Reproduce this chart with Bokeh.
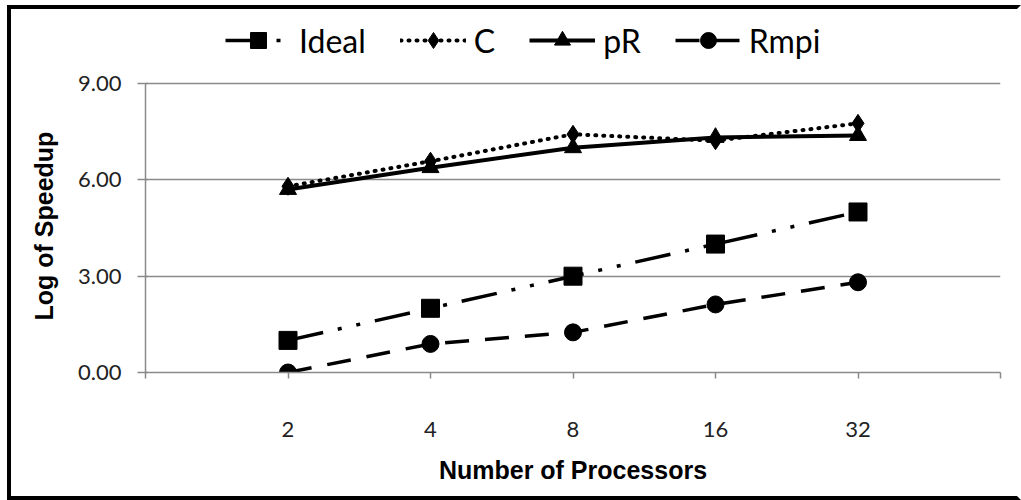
from bokeh.plotting import figure
from bokeh.models import Legend, LegendItem, FixedTicker, SingleIntervalTicker, NumeralTickFormatter, Title
from bokeh.embed import file_html
from bokeh.resources import INLINE

categories = ["2", "4", "8", "16", "32"]
ideal = [1.0, 2.0, 3.0, 4.0, 5.0]
c_vals = [5.80, 6.58, 7.42, 7.22, 7.76]
pr_vals = [5.70, 6.38, 7.00, 7.32, 7.38]
rmpi_vals = [0.0, 0.89, 1.25, 2.12, 2.81]
y_ticks = [0, 3, 6, 9]

xs = list(range(1, len(categories) + 1))

p = figure(width=1014, height=495, output_backend="svg", toolbar_location=None,
           x_range=(0, len(categories) + 1), y_range=(0, 11.12),
           min_border_left=134, min_border_right=25, min_border_top=6, min_border_bottom=132)
p.margin = (5, 0, 0, 7)
p.styles = {"border-left": "4px solid black", "border-top": "4px solid black",
            "border-bottom": "4px solid black", "border-right": "4px solid white"}
p.outline_line_color = None
p.background_fill_color = "white"
p.border_fill_color = "white"

# axes
p.xaxis.ticker = SingleIntervalTicker(interval=1)
p.xaxis.major_label_overrides = {0: "", len(categories) + 1: "", **{i + 1: c for i, c in enumerate(categories)}}
p.xaxis.axis_label = "Number of Processors"
p.yaxis.ticker = FixedTicker(ticks=y_ticks)
p.yaxis.bounds = (0, 9)
p.yaxis.formatter = NumeralTickFormatter(format="0.00")
for ax in (p.xaxis[0], p.yaxis[0]):
    ax.axis_line_color = "#8a8a8a"
    ax.axis_line_width = 1.5
    ax.major_tick_line_color = "#8a8a8a"
    ax.major_tick_line_width = 1.5
    ax.minor_tick_line_color = None
    ax.major_label_text_font = "Lato"
    ax.major_label_text_font_size = "22px"
    ax.major_label_text_color = "#222222"
    ax.axis_label_text_font = "Liberation Sans"
    ax.axis_label_text_font_style = "bold"
    ax.axis_label_text_font_size = "25px"
    ax.axis_label_text_color = "black"
p.xaxis.major_tick_out = 6
p.xaxis.major_tick_in = 0
p.xaxis.major_label_standoff = 43
p.xaxis.axis_label_standoff = 16
p.yaxis.major_tick_out = 8
p.yaxis.major_tick_in = 2
p.yaxis.major_label_standoff = 16

ytitle = Title(text="Log of Speedup", align="left", offset=52, vertical_align="middle",
               text_font="Liberation Sans", text_font_style="bold", text_font_size="25px",
               text_color="black", standoff=34)
p.add_layout(ytitle, "left")

p.xgrid.grid_line_color = None
p.ygrid.ticker = FixedTicker(ticks=y_ticks)
p.ygrid.grid_line_color = "#8a8a8a"
p.ygrid.grid_line_width = 1.5

# series
l_ideal = p.line(xs, ideal, line_color="black", line_width=3.5, line_dash="36 15 4 15 4 15")
m_ideal = p.scatter(xs, ideal, marker="square", size=18, fill_color="black", line_color="black")
l_c = p.line(xs, c_vals, line_color="black", line_width=4, line_dash="1 7", line_cap="round")
m_c = p.scatter(xs, c_vals, marker="diamond", size=18, fill_color="black", line_color="black")
l_pr = p.line(xs, pr_vals, line_color="black", line_width=4)
m_pr = p.scatter(xs, pr_vals, marker="triangle", size=17, fill_color="black", line_color="black")
l_rm = p.line(xs, rmpi_vals, line_color="black", line_width=3.5, line_dash="24 16")
m_rm = p.scatter(xs, rmpi_vals, marker="circle", size=17, fill_color="black", line_color="black")

legend = Legend(items=[
    LegendItem(label="Ideal", renderers=[l_ideal, m_ideal]),
    LegendItem(label="C", renderers=[l_c, m_c]),
    LegendItem(label="pR", renderers=[l_pr, m_pr]),
    LegendItem(label="Rmpi", renderers=[l_rm, m_rm]),
], orientation="horizontal", location=(80, 312))
legend.label_text_font = "Lato"
legend.label_text_font_size = "32px"
legend.label_text_color = "black"
legend.glyph_width = 66
legend.glyph_height = 40
legend.label_standoff = 8
legend.spacing = 34
legend.padding = 0
legend.margin = 0
legend.border_line_color = None
legend.background_fill_alpha = 0
p.add_layout(legend, "center")

open("out.html", "w").write(file_html(p, INLINE))
